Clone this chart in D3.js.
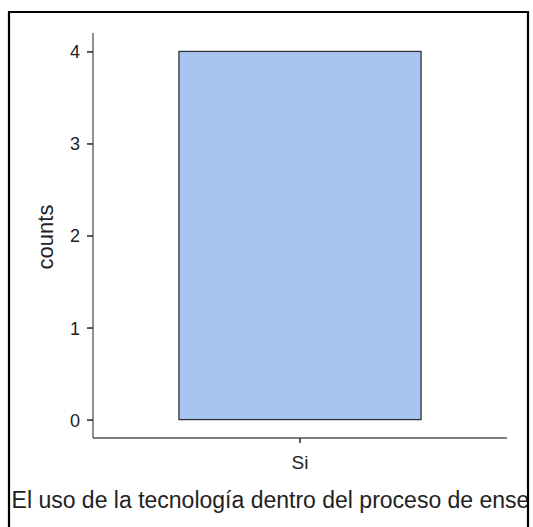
<!DOCTYPE html>
<html><head><meta charset="utf-8">
<script src="https://cdn.jsdelivr.net/npm/d3@7"></script>
<style>body{margin:0;background:#fff}svg{display:block}</style>
</head><body>
<script>
const categories = ["Si"];
const counts = [4];
const yTicks = [0, 1, 2, 3, 4];
const yLabel = "counts";
const xTitle = "¿El uso de la tecnología dentro del proceso de enseñanza-aprendizaje?";

const W = 533, H = 527;
const svg = d3.select("body").append("svg").attr("width", W).attr("height", H);
const font = "'Liberation Sans', Arial, sans-serif";

const x = d3.scaleBand().domain(categories).range([93, 507]).paddingInner(0).paddingOuter(0.355);
const y = d3.scaleLinear().domain([-0.2, 4.2]).range([438, 33]);

// bars
svg.selectAll("rect.bar").data(categories).join("rect")
  .attr("class","bar")
  .attr("x", d => x(d)).attr("width", x.bandwidth())
  .attr("y", (d,i) => y(counts[i])).attr("height", (d,i) => y(0) - y(counts[i]))
  .attr("fill", "#a7c5f0").attr("stroke", "#333").attr("stroke-width", 1.3);

// y axis
const ya = svg.append("g").attr("transform", "translate(93,0)")
  .call(d3.axisLeft(y).tickValues(yTicks).tickSize(6).tickPadding(7).tickFormat(d3.format("d")));
ya.select(".domain").attr("stroke", "#555").attr("stroke-width", 1.3).attr("d", "M0,33V438");
ya.selectAll(".tick line").attr("stroke", "#333").attr("stroke-width", 1.6);
ya.selectAll(".tick text").attr("fill", "#222").attr("dy", "0.36em").style("font-family", font).style("font-size", "18px");

// x axis
const xa = svg.append("g").attr("transform", "translate(0,438)")
  .call(d3.axisBottom(x).tickSize(5).tickPadding(10));
xa.select(".domain").attr("stroke", "#555").attr("stroke-width", 1.3).attr("d", "M93,0H507");
xa.selectAll(".tick line").attr("stroke", "#333").attr("stroke-width", 1.6);
xa.selectAll(".tick text").attr("fill", "#222").attr("dy", null).attr("y", 31).style("font-family", font).style("font-size", "19px");

// y label
svg.append("text").attr("transform", "translate(53,237) rotate(-90)")
  .attr("text-anchor", "middle").attr("fill", "#222")
  .style("font-family", font).style("font-size", "22px").text(yLabel);

// title (clipped by the frame, as in the reference)
svg.append("clipPath").attr("id", "tc").append("rect").attr("x", 8).attr("y", 470).attr("width", 520).attr("height", 57);
svg.append("text").attr("clip-path", "url(#tc)")
  .attr("x", -2.5).attr("y", 508).attr("fill", "#222")
  .style("font-family", font).style("font-size", "23px").text(xTitle);

// frame
svg.append("path").attr("d", "M9,527V12H528V527").attr("fill", "none").attr("stroke", "#000").attr("stroke-width", 2.2);
</script>
</body></html>
